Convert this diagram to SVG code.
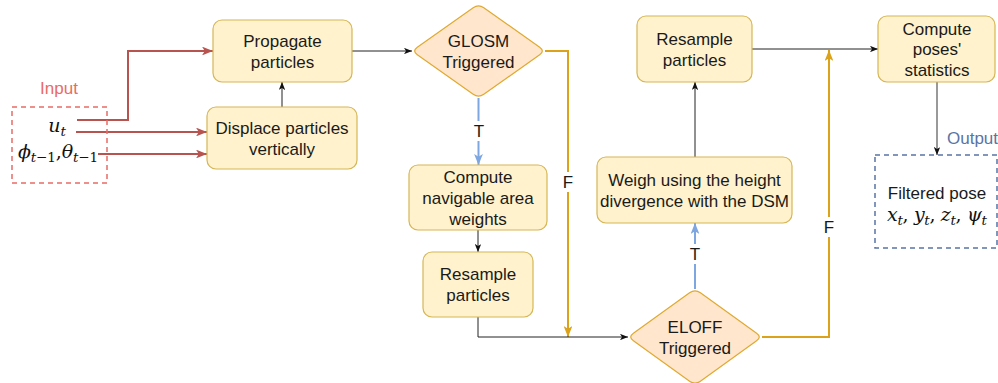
<svg xmlns="http://www.w3.org/2000/svg" width="998" height="383" viewBox="0 0 998 383">
<style>
.box{fill:#FFF2CC;stroke:#D6B656;stroke-width:1.2}
.dia{fill:#FFE6CC;stroke:#E0A930;stroke-width:1.2}
.t{font-family:"Liberation Sans",Arial,sans-serif;font-size:17px;fill:#1a1a1a;text-anchor:middle}
.m{font-family:"DejaVu Serif","Liberation Serif",serif;font-style:italic;font-size:19px;fill:#111;text-anchor:middle}
.sub{font-size:13.5px}
.k{fill:none;stroke:#222;stroke-width:1}
.r{fill:none;stroke:#B85450;stroke-width:2}
.o{fill:none;stroke:#DBA21A;stroke-width:2}
.b{fill:none;stroke:#7EA6E0;stroke-width:2}
.g{fill:none;stroke:#999;stroke-width:2}
.lbl{fill:#fff}
</style>
<defs>
<marker id="ak" viewBox="0 0 10 8" refX="10" refY="4" markerWidth="8" markerHeight="6.4" markerUnits="userSpaceOnUse" orient="auto"><path d="M0,0 L10,4 L0,8 L2.5,4 z" fill="#111"/></marker>
<marker id="ar" viewBox="0 0 10 8" refX="10" refY="4" markerWidth="11" markerHeight="8.8" markerUnits="userSpaceOnUse" orient="auto"><path d="M0,0 L10,4 L0,8 L2.5,4 z" fill="#B85450"/></marker>
<marker id="ao" viewBox="0 0 10 8" refX="10" refY="4" markerWidth="11" markerHeight="8.8" markerUnits="userSpaceOnUse" orient="auto"><path d="M0,0 L10,4 L0,8 L2.5,4 z" fill="#DBA21A"/></marker>
<marker id="ab" viewBox="0 0 10 8" refX="10" refY="4" markerWidth="11" markerHeight="8.8" markerUnits="userSpaceOnUse" orient="auto"><path d="M0,0 L10,4 L0,8 L2.5,4 z" fill="#7EA6E0"/></marker>
</defs>

<g id="connectors">
<polyline class="r" points="77,120 128,120 128,51 213,51" marker-end="url(#ar)"/>
<line class="r" x1="76" y1="132" x2="207" y2="132" marker-end="url(#ar)"/>
<line class="r" x1="98" y1="154" x2="207" y2="154" marker-end="url(#ar)"/>
<line class="k" x1="282" y1="107" x2="282" y2="82" marker-end="url(#ak)"/>
<line class="k" x1="352" y1="51" x2="412" y2="51" marker-end="url(#ak)"/>
<polyline class="o" points="545,51 568,51 568,337" marker-end="url(#ao)"/>
<line class="b" x1="478.5" y1="98" x2="478.5" y2="165" marker-end="url(#ab)"/>
<line class="k" x1="478" y1="230" x2="478" y2="252" marker-end="url(#ak)"/>
<polyline class="k" points="478,317 478,337 628,337" marker-end="url(#ak)"/>
<line class="b" x1="695" y1="289" x2="695" y2="223" marker-end="url(#ab)"/>
<line class="k" x1="695" y1="157" x2="695" y2="82" marker-end="url(#ak)"/>
<polyline class="o" points="762,337 829,337 829,50" marker-end="url(#ao)"/>
<line class="k" x1="752" y1="49" x2="878" y2="49" marker-end="url(#ak)"/>
<line class="g" x1="937" y1="82" x2="937" y2="155" marker-end="url(#ak)"/>
<rect class="lbl" x="471" y="121" width="15" height="20"/>
<text class="t" x="479" y="137">T</text>
<rect class="lbl" x="561" y="172" width="15" height="20"/>
<text class="t" x="568" y="188">F</text>
<rect class="lbl" x="688" y="244" width="15" height="20"/>
<text class="t" x="695" y="260">T</text>
<rect class="lbl" x="822" y="217" width="15" height="20"/>
<text class="t" x="829" y="233">F</text>
</g>

<g id="input">
<text class="t" x="59" y="94" style="fill:#EA6B66">Input</text>
<rect x="12" y="107" width="95" height="76" fill="none" stroke="#EA6B66" stroke-width="1.5" stroke-dasharray="5,4"/>
<text class="m" x="57" y="132">u<tspan class="sub" dy="4">t</tspan></text>
<text class="m" x="58" y="158" textLength="80" lengthAdjust="spacing">ϕ<tspan class="sub" dy="4">t<tspan font-style="normal">−1</tspan></tspan><tspan dy="-4" font-style="normal">,</tspan>θ<tspan class="sub" dy="4">t<tspan font-style="normal">−1</tspan></tspan></text>
</g>

<g id="propagate">
<rect class="box" x="213" y="20" width="139" height="62" rx="9"/>
<text class="t" x="282.5" y="46.5">Propagate</text>
<text class="t" x="282.5" y="67.5">particles</text>
</g>

<g id="displace">
<rect class="box" x="207" y="107" width="150" height="62" rx="9"/>
<text class="t" x="282" y="133.5">Displace particles</text>
<text class="t" x="282" y="154.5">vertically</text>
</g>

<g id="glosm">
<path class="dia" d="M417.3,47.2 L473.2,7.8 Q478.5,4 483.8,7.8 L539.7,47.2 Q545,51 539.7,54.8 L483.8,94.2 Q478.5,98 473.2,94.2 L417.3,54.8 Q412,51 417.3,47.2 Z"/>
<text class="t" x="478.5" y="46.5">GLOSM</text>
<text class="t" x="478.5" y="67.5">Triggered</text>
</g>

<g id="navigable">
<rect class="box" x="409" y="165" width="138" height="65" rx="9"/>
<text class="t" x="478" y="183">Compute</text>
<text class="t" x="478" y="204">navigable area</text>
<text class="t" x="478" y="224.5">weights</text>
</g>

<g id="resample1">
<rect class="box" x="423" y="252" width="110" height="65" rx="9"/>
<text class="t" x="478" y="280">Resample</text>
<text class="t" x="478" y="301">particles</text>
</g>

<g id="eloff">
<path class="dia" d="M633.4,333.2 L689.6,292.8 Q695,289 700.4,292.8 L756.6,333.2 Q762,337 756.6,340.8 L700.4,381.2 Q695,385 689.6,381.2 L633.4,340.8 Q628,337 633.4,333.2 Z"/>
<text class="t" x="695" y="333">ELOFF</text>
<text class="t" x="695" y="354">Triggered</text>
</g>

<g id="weigh">
<rect class="box" x="597" y="157" width="195" height="66" rx="9"/>
<text class="t" x="694.5" y="186">Weigh using the height</text>
<text class="t" x="694.5" y="207">divergence with the DSM</text>
</g>

<g id="resample2">
<rect class="box" x="637" y="16" width="115" height="66" rx="9"/>
<text class="t" x="694.5" y="45">Resample</text>
<text class="t" x="694.5" y="66">particles</text>
</g>

<g id="stats">
<rect class="box" x="878" y="16" width="117" height="66" rx="9"/>
<text class="t" x="937" y="34.5">Compute</text>
<text class="t" x="937" y="55">poses'</text>
<text class="t" x="937" y="75.5">statistics</text>
</g>

<g id="output">
<text class="t" x="947" y="144" style="fill:#5A74A6;text-anchor:start">Output</text>
<rect x="875" y="155" width="122" height="93" fill="none" stroke="#5A74A6" stroke-width="1.5" stroke-dasharray="5,4"/>
<text class="t" x="937" y="199">Filtered pose</text>
<text class="m" x="937" y="221" textLength="100" lengthAdjust="spacing">x<tspan class="sub" dy="4">t</tspan><tspan dy="-4" font-style="normal">, </tspan>y<tspan class="sub" dy="4">t</tspan><tspan dy="-4" font-style="normal">, </tspan>z<tspan class="sub" dy="4">t</tspan><tspan dy="-4" font-style="normal">, </tspan>ψ<tspan class="sub" dy="4">t</tspan></text>
</g>
</svg>
